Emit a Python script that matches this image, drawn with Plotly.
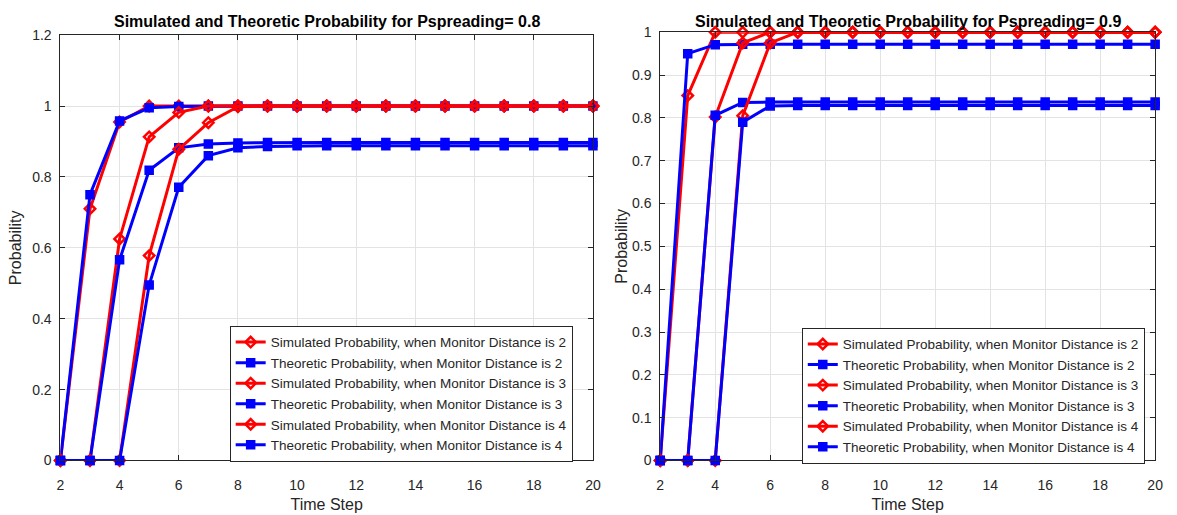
import plotly.graph_objects as go

time_steps = list(range(2, 21))
x_ticks = list(range(2, 21, 2))

# Pspreading = 0.8
sim_d2_p08 = [0, 0.71, 0.955, 1.0, 1.0] + [1.0] * 14
theo_d2_p08 = [0, 0.75, 0.958, 0.995, 0.999] + [1.0] * 14
sim_d3_p08 = [0, 0, 0.625, 0.913, 0.982, 1.0] + [1.0] * 13
theo_d3_p08 = [0, 0, 0.566, 0.819, 0.882, 0.893, 0.896] + [0.897] * 12
sim_d4_p08 = [0, 0, 0, 0.578, 0.878, 0.953, 0.998] + [1.0] * 12
theo_d4_p08 = [0, 0, 0, 0.495, 0.771, 0.860, 0.882, 0.886] + [0.888] * 11

# Pspreading = 0.9
sim_d2_p09 = [0, 0.852, 1.0] + [1.0] * 16
theo_d2_p09 = [0, 0.950, 0.971] + [0.972] * 16
sim_d3_p09 = [0, 0, 0.802, 0.975] + [1.0] * 15
theo_d3_p09 = [0, 0, 0.806, 0.836] + [0.837] * 15
sim_d4_p09 = [0, 0, 0, 0.805, 0.975] + [1.0] * 14
theo_d4_p09 = [0, 0, 0, 0.790, 0.828] + [0.829] * 14

labels = [
    "Simulated Probability, when Monitor Distance is 2",
    "Theoretic Probability, when Monitor Distance is 2",
    "Simulated Probability, when Monitor Distance is 3",
    "Theoretic Probability, when Monitor Distance is 3",
    "Simulated Probability, when Monitor Distance is 4",
    "Theoretic Probability, when Monitor Distance is 4",
]

left_series = [sim_d2_p08, theo_d2_p08, sim_d3_p08, theo_d3_p08, sim_d4_p08, theo_d4_p08]
right_series = [sim_d2_p09, theo_d2_p09, sim_d3_p09, theo_d3_p09, sim_d4_p09, theo_d4_p09]

RED = "#ff0000"
BLUE = "#0000ff"
FONT = "Liberation Sans, Arial"

fig = go.Figure()


def add_series(series, xa, ya, legend):
    for i, (vals, name) in enumerate(zip(series, labels)):
        sim = i % 2 == 0
        color = RED if sim else BLUE
        marker = dict(
            symbol="diamond-open" if sim else "square",
            size=8,
            color=color,
            line=dict(color=color, width=2.5 if sim else 1.5),
        )
        fig.add_trace(go.Scatter(
            x=time_steps, y=vals, mode="lines+markers", name=name,
            line=dict(color=color, width=3), marker=marker,
            xaxis=xa, yaxis=ya, legend=legend, cliponaxis=False,
        ))


add_series(left_series, "x", "y", "legend")
add_series(right_series, "x2", "y2", "legend2")

W, H = 1177, 515
ax_common = dict(
    showline=True, linecolor="#262626", linewidth=1, mirror="ticks",
    ticks="inside", ticklen=5, tickcolor="#262626",
    showgrid=True, gridcolor="#e3e3e3", gridwidth=1, zeroline=False,
    tickfont=dict(family=FONT, size=14, color="#262626"),
)
title_font = dict(family=FONT, size=16, color="#262626")

legend_common = dict(
    xanchor="left", yanchor="top",
    bgcolor="white", bordercolor="#262626", borderwidth=1,
    font=dict(family=FONT, size=13.5, color="#262626"),
    tracegroupgap=0,
)

fig.update_layout(
    width=W, height=H,
    margin=dict(l=0, r=0, t=0, b=0),
    paper_bgcolor="white", plot_bgcolor="white",
    xaxis=dict(domain=[57 / W, 595 / W], range=[2, 20], tickvals=x_ticks,
               ticklabelstandoff=12,
               title=dict(text="Time Step", font=title_font, standoff=6),
               anchor="y", **ax_common),
    yaxis=dict(domain=[1 - 467 / H, 1 - 28 / H], range=[0, 1.2],
               tickvals=[0, 0.2, 0.4, 0.6, 0.8, 1.0, 1.2],
               ticktext=["0", "0.2", "0.4", "0.6", "0.8", "1", "1.2"],
               ticklabelstandoff=5,
               title=dict(text="Probability", font=title_font, standoff=6),
               anchor="x", **ax_common),
    xaxis2=dict(domain=[663 / W, 1163 / W], range=[2, 20], tickvals=x_ticks,
                ticklabelstandoff=12,
                title=dict(text="Time Step", font=title_font, standoff=6),
                anchor="y2", **ax_common),
    yaxis2=dict(domain=[1 - 467 / H, 1 - 25 / H], range=[0, 1],
                tickvals=[i / 10 for i in range(11)],
                ticktext=["0", "0.1", "0.2", "0.3", "0.4", "0.5", "0.6", "0.7", "0.8", "0.9", "1"],
                ticklabelstandoff=5,
                title=dict(text="Probability", font=title_font, standoff=0),
                anchor="x2", **ax_common),
    legend=dict(x=228 / W, y=1 - 328 / H, **legend_common),
    legend2=dict(x=806 / W, y=1 - 330 / H, **legend_common),
    annotations=[
        dict(text="<b>Simulated and Theoretic Probability for Pspreading= 0.8</b>",
             x=326 / W, y=1 - 14 / H, xref="paper", yref="paper",
             showarrow=False, xanchor="center", yanchor="middle",
             font=dict(family=FONT, size=16, color="black")),
        dict(text="<b>Simulated and Theoretic Probability for Pspreading= 0.9</b>",
             x=913 / W, y=1 - 14 / H, xref="paper", yref="paper",
             showarrow=False, xanchor="center", yanchor="middle",
             font=dict(family=FONT, size=16, color="black")),
    ],
)

fig.write_html("out.html")
